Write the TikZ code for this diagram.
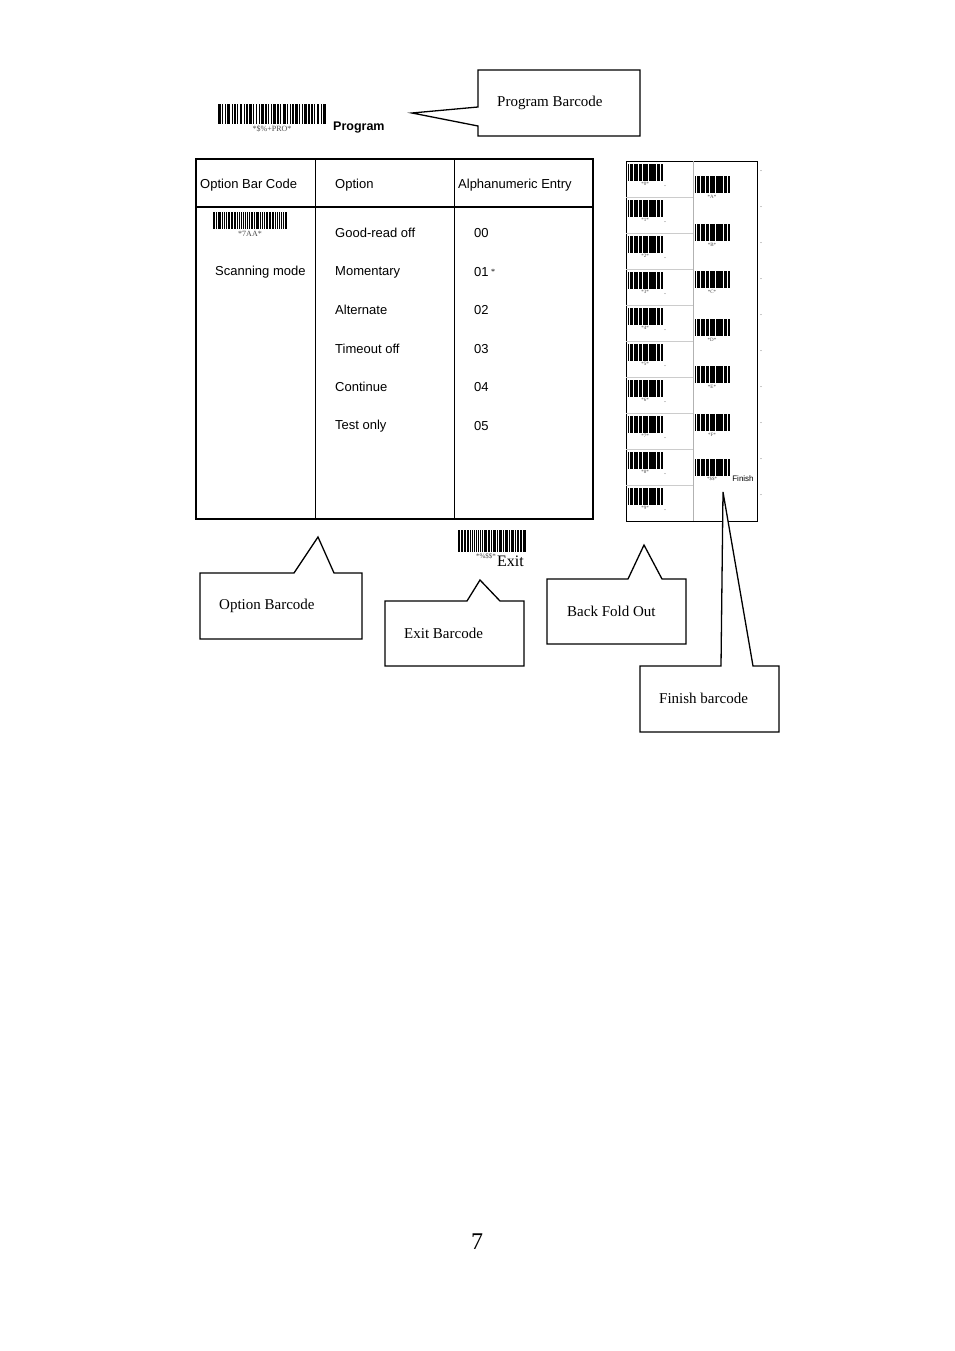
\documentclass[tikz,border=0pt]{standalone}
\usepackage{fontspec}
\setmainfont{Liberation Serif}
\setsansfont{Liberation Sans}
\newcommand\bcode[4]{\begin{scope}[shift={(#1,#2)},xscale=#3/80]\foreach \s/\w in {0/2,3/1,5/1,7/2,10/1,12/1,14/1,16/2,19/1,21/1,23/2,26/1,28/1,30/1,32/2,35/1,37/1,39/1,41/2,44/1,46/1,48/2,51/1,53/1,55/1,57/2,60/1,62/1,64/2,67/1,69/1,71/1,73/2,76/1,78/2}{\fill (\s,0) rectangle ++(\w,#4);}\end{scope}}
\newcommand\sbcode[4]{\begin{scope}[shift={(#1,#2)},xscale=#3/60]\foreach \s/\w in {0/2,3/1,5/1,7/2,10/1,12/3,16/1,18/1,20/2,23/1,25/1,27/3,31/1,33/2,36/1,38/1,40/2,43/1,45/3,49/1,51/1,53/2,56/1,58/2}{\fill (\s,0) rectangle ++(\w,#4);}\end{scope}}
\begin{document}
\begin{tikzpicture}[x=1pt,y=-1pt,
  sf/.style={font=\sffamily\fontsize{13}{15}\selectfont,anchor=west,inner sep=0},
  cl/.style={font=\fontsize{15}{17}\selectfont,anchor=west,inner sep=0},
  tiny/.style={font=\fontsize{8}{9}\selectfont,inner sep=0,text=black!70},
  call/.style={draw,line width=1.3pt,fill=white}]
\useasboundingbox (0,0) rectangle (954,1351);
% program barcode
\bcode{218}{104}{108}{20}
\node[tiny] (pl) at (272,129) {*\$\%+PRO*};
\node[sf,font=\sffamily\bfseries\fontsize{12.5}{14}\selectfont] (prog) at (333,128) {Program};
% table
\draw[line width=1.3pt] (196,159) rectangle (593,519);
\draw[line width=1.3pt] (196,207) -- (593,207);
\draw[line width=1pt] (315,159) -- (315,519) (454,159) -- (454,519);
\node[sf] (h1) at (200,185) {Option Bar Code};
\node[sf] (h2) at (335,185) {Option};
\node[sf] (h3) at (458,185) {Alphanumeric Entry};
\bcode{213}{212}{74}{17}
\node[tiny] (ol) at (250,234) {*7AA*};
\node[sf] (sm) at (215,272) {Scanning mode};
\foreach \t/\v/\y in {Good-read off/00/233, Momentary/01/272, Alternate/02/310, Timeout off/03/349, Continue/04/387, Test only/05/426}{
  \node[sf] at (335,\y) {\t};
  \node[sf] at (474,\y) {\v};}
\node[tiny,text=black] at (493,272) {*};
% exit barcode
\bcode{458}{530}{68}{22}
\node[tiny,font=\fontsize{7}{8}\selectfont] (el) at (486,556) {*\%\$\$*};
\node[cl,font=\fontsize{16}{18}\selectfont] (exit) at (497,561) {Exit};
% fold-out panel
\draw[thin] (626,161) rectangle (757,521);
\draw[gray!60] (693,161) -- (693,521);
\foreach \k in {1,...,9}{\draw[gray!40] (626,161+36*\k) -- (693,161+36*\k);}
\foreach \k in {0,...,9}{\sbcode{628}{164+36*\k}{35}{17}
  \node[tiny,font=\fontsize{5}{6}\selectfont] at (645,184+36*\k) {*\k*};
  \node[tiny] at (665,186+36*\k) {.};}
\foreach \k/\c in {0/A,1/B,2/C,3/D,4/E,5/F}{\sbcode{695}{176+47.5*\k}{35}{17}
  \node[tiny,font=\fontsize{5}{6}\selectfont] at (712,197+47.5*\k) {*\c*};}
\sbcode{695}{459}{35}{17}
\node[tiny,font=\fontsize{5}{6}\selectfont] at (712,479) {*\$\$*};
\node[tiny,text=black,font=\sffamily\fontsize{8}{9}\selectfont] at (743,479) {Finish};
\foreach \k in {0,...,9}{\node[tiny] at (761,171+36*\k) {.};}
% callouts
\draw[call] (478,70)--(640,70)--(640,136)--(478,136)--(478,126)--(412,113)--(478,107)--cycle;
\node[cl] (t1) at (497,103) {Program Barcode};
\draw[call] (200,573)--(294,573)--(318,537)--(334,573)--(362,573)--(362,639)--(200,639)--cycle;
\node[cl] (t2) at (219,606) {Option Barcode};
\draw[call] (385,601)--(467,601)--(480,580)--(500,601)--(524,601)--(524,666)--(385,666)--cycle;
\node[cl] (t3) at (404,633) {Exit Barcode};
\draw[call] (547,579)--(628,579)--(644,545)--(662,579)--(686,579)--(686,644)--(547,644)--cycle;
\node[cl] (t4) at (567,611) {Back Fold Out};
\draw[call] (640,666)--(721,666)--(723,492)--(753,666)--(779,666)--(779,732)--(640,732)--cycle;
\node[cl] (t5) at (659,698) {Finish barcode};
\node[font=\fontsize{24}{26}\selectfont] (pg) at (477,1242) {7};
\end{tikzpicture}
\end{document}
